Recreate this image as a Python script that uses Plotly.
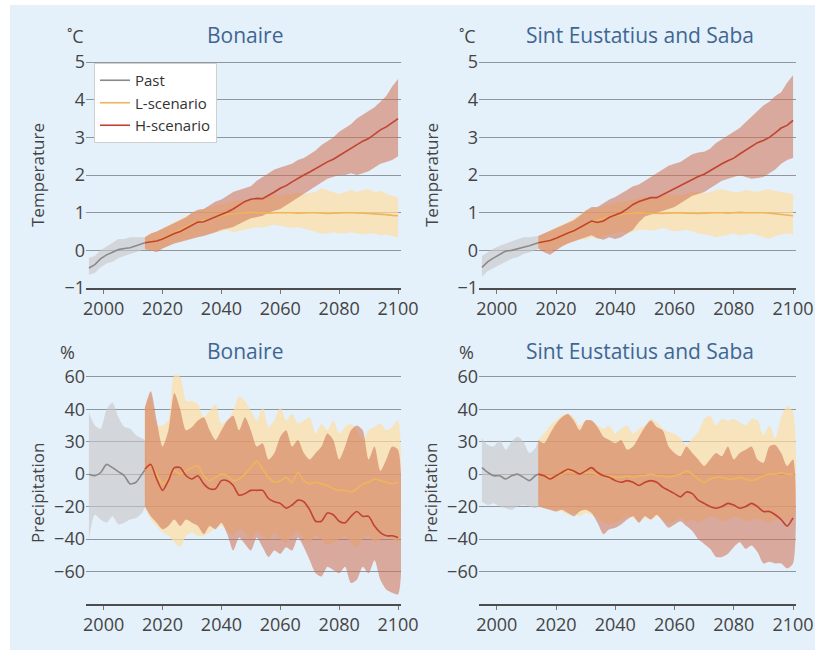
import plotly.graph_objects as go

# ---------------- data ----------------
PAST_YEARS = [1995, 1997, 1999, 2001, 2003, 2005, 2007, 2009, 2011, 2013, 2014]
SCEN_YEARS = list(range(2014, 2101, 2))
X_TICKS = [2000, 2020, 2040, 2060, 2080, 2100]
T_TICKS = [5, 4, 3, 2, 1, 0, -1]
T_TICKTEXT = ["5", "4", "3", "2", "1", "0", "\u22121"]
P_TICKS = [60, 40, 20, 0, -20, -40, -60]
P_TICKTEXT = ["60", "40", "30", "0", "\u221220", "\u221240", "\u221260"]
SERIES_NAMES = ["Past", "L-scenario", "H-scenario"]
PANEL_TITLES = ["Bonaire", "Sint Eustatius and Saba"]

# Temperature, Bonaire
BON_T_P_MEAN = [-0.47, -0.38, -0.22, -0.12, -0.05, 0.02, 0.05, 0.07, 0.12, 0.18, 0.20]
BON_T_P_LO = [-0.65, -0.60, -0.45, -0.35, -0.30, -0.20, -0.15, -0.10, -0.05, 0.00, 0.03]
BON_T_P_HI = [-0.20, -0.15, 0.00, 0.10, 0.20, 0.30, 0.30, 0.35, 0.35, 0.35, 0.35]
BON_T_H_MEAN = [0.20, 0.22, 0.25, 0.30, 0.38, 0.45, 0.50, 0.58, 0.67, 0.75, 0.76, 0.82, 0.90, 0.95, 1.02,
                1.10, 1.20, 1.30, 1.36, 1.38, 1.37, 1.45, 1.55, 1.65, 1.72, 1.82, 1.92, 2.00, 2.08, 2.17,
                2.28, 2.35, 2.42, 2.52, 2.62, 2.72, 2.82, 2.90, 2.97, 3.08, 3.20, 3.28, 3.38, 3.50]
BON_T_H_LO = [0.02, 0.00, -0.05, 0.05, 0.12, 0.18, 0.22, 0.25, 0.30, 0.35, 0.38, 0.42, 0.48, 0.55, 0.58,
              0.62, 0.70, 0.78, 0.85, 0.88, 0.92, 1.00, 1.05, 1.10, 1.20, 1.30, 1.40, 1.50, 1.62, 1.70,
              1.80, 1.90, 1.95, 2.00, 2.00, 2.05, 2.00, 2.05, 2.10, 2.20, 2.30, 2.35, 2.40, 2.50]
BON_T_H_HI = [0.35, 0.45, 0.50, 0.58, 0.65, 0.72, 0.80, 0.88, 1.00, 1.08, 1.10, 1.20, 1.30, 1.35, 1.45,
              1.55, 1.60, 1.65, 1.70, 1.85, 1.95, 2.05, 2.15, 2.20, 2.25, 2.30, 2.40, 2.45, 2.55, 2.65,
              2.80, 2.90, 3.00, 3.15, 3.25, 3.35, 3.50, 3.60, 3.70, 3.80, 3.95, 4.10, 4.35, 4.55]
BON_T_L_MEAN = [0.20, 0.22, 0.25, 0.32, 0.40, 0.48, 0.55, 0.62, 0.70, 0.76, 0.80, 0.85, 0.90, 0.93, 0.96,
                0.98, 1.00, 1.00, 1.01, 1.00, 0.98, 0.99, 1.00, 1.00, 1.01, 1.00, 0.99, 1.00, 1.00, 1.00,
                0.99, 0.98, 0.99, 1.00, 1.00, 1.00, 1.00, 0.99, 0.98, 0.97, 0.97, 0.95, 0.93, 0.92]
BON_T_L_LO = [0.02, 0.00, -0.02, 0.05, 0.12, 0.20, 0.25, 0.28, 0.32, 0.38, 0.42, 0.45, 0.48, 0.50, 0.55,
              0.48, 0.50, 0.55, 0.58, 0.62, 0.60, 0.65, 0.68, 0.65, 0.62, 0.60, 0.62, 0.58, 0.55, 0.50,
              0.45, 0.45, 0.48, 0.45, 0.45, 0.48, 0.45, 0.42, 0.45, 0.45, 0.40, 0.42, 0.38, 0.35]
BON_T_L_HI = [0.35, 0.45, 0.50, 0.58, 0.66, 0.75, 0.82, 0.90, 1.00, 1.05, 1.10, 1.15, 1.20, 1.22, 1.25,
              1.30, 1.35, 1.30, 1.35, 1.40, 1.42, 1.45, 1.50, 1.45, 1.50, 1.48, 1.55, 1.50, 1.52, 1.55,
              1.65, 1.60, 1.55, 1.50, 1.55, 1.60, 1.55, 1.60, 1.62, 1.55, 1.58, 1.50, 1.45, 1.40]

# Temperature, Sint Eustatius and Saba
SE_T_P_MEAN = [-0.45, -0.30, -0.20, -0.12, -0.02, 0.00, 0.05, 0.08, 0.12, 0.18, 0.20]
SE_T_P_LO = [-0.70, -0.55, -0.45, -0.38, -0.30, -0.22, -0.18, -0.10, -0.05, 0.00, 0.05]
SE_T_P_HI = [-0.15, -0.05, 0.05, 0.12, 0.18, 0.25, 0.30, 0.35, 0.35, 0.38, 0.38]
SE_T_H_MEAN = [0.20, 0.22, 0.26, 0.32, 0.40, 0.46, 0.52, 0.60, 0.70, 0.78, 0.74, 0.78, 0.88, 0.93, 1.00,
               1.10, 1.22, 1.30, 1.36, 1.40, 1.40, 1.48, 1.58, 1.65, 1.72, 1.80, 1.90, 1.96, 2.02, 2.12,
               2.22, 2.30, 2.38, 2.45, 2.56, 2.66, 2.76, 2.86, 2.92, 3.00, 3.12, 3.25, 3.32, 3.45]
SE_T_H_LO = [0.05, -0.05, -0.12, -0.02, 0.10, 0.18, 0.25, 0.30, 0.35, 0.40, 0.32, 0.28, 0.35, 0.30, 0.35,
             0.45, 0.55, 0.75, 0.90, 0.95, 1.00, 1.05, 1.10, 1.15, 1.25, 1.35, 1.45, 1.50, 1.55, 1.65,
             1.75, 1.85, 1.90, 1.95, 2.00, 1.95, 1.90, 1.92, 1.95, 2.05, 2.15, 2.30, 2.40, 2.45]
SE_T_H_HI = [0.38, 0.45, 0.52, 0.58, 0.65, 0.72, 0.80, 0.92, 1.05, 1.15, 1.15, 1.25, 1.35, 1.42, 1.50,
             1.60, 1.70, 1.75, 1.85, 1.95, 2.05, 2.15, 2.25, 2.30, 2.35, 2.45, 2.55, 2.60, 2.62, 2.70,
             2.85, 2.95, 3.05, 3.15, 3.25, 3.40, 3.55, 3.70, 3.85, 3.95, 4.10, 4.20, 4.45, 4.65]
SE_T_L_MEAN = [0.20, 0.22, 0.26, 0.33, 0.41, 0.48, 0.55, 0.62, 0.70, 0.76, 0.80, 0.86, 0.90, 0.93, 0.96,
               0.98, 0.99, 1.00, 0.99, 0.98, 0.97, 0.98, 0.99, 1.00, 1.00, 0.99, 0.98, 0.98, 0.99, 1.00,
               1.00, 1.00, 0.99, 1.00, 1.01, 1.00, 1.00, 1.01, 1.00, 0.99, 0.97, 0.96, 0.94, 0.92]
SE_T_L_LO = [0.05, 0.00, -0.05, 0.05, 0.12, 0.18, 0.25, 0.30, 0.28, 0.35, 0.30, 0.38, 0.42, 0.45, 0.50,
             0.45, 0.50, 0.55, 0.55, 0.52, 0.55, 0.60, 0.55, 0.50, 0.52, 0.55, 0.50, 0.45, 0.42, 0.40,
             0.35, 0.38, 0.42, 0.45, 0.40, 0.42, 0.45, 0.40, 0.35, 0.30, 0.38, 0.42, 0.45, 0.42]
SE_T_L_HI = [0.38, 0.45, 0.52, 0.60, 0.68, 0.75, 0.85, 0.95, 1.05, 1.10, 1.12, 1.18, 1.22, 1.25, 1.30,
             1.30, 1.35, 1.40, 1.42, 1.40, 1.45, 1.45, 1.50, 1.48, 1.45, 1.50, 1.55, 1.55, 1.52, 1.55,
             1.60, 1.62, 1.58, 1.55, 1.55, 1.60, 1.58, 1.55, 1.60, 1.62, 1.58, 1.55, 1.52, 1.50]

# Precipitation, Bonaire
BON_P_P_MEAN = [0, -1, 1, 6, 4, 1.5, -1, -6, -5, 0, 2.5]
BON_P_P_LO = [-40, -25, -28, -30, -26, -31, -30, -28, -27, -24, -20]
BON_P_P_HI = [38, 30, 28, 40, 44, 35, 29, 28, 24, 22, 21]
BON_P_H_MEAN = [3, 6, -3, -10, -4, 4, 4, -1, -3, -1, -6, -9, -9, -4, -4, -7, -13, -12, -10, -10, -10, -15,
                -17, -18, -21, -19, -16, -17, -22, -29, -29, -24, -25, -29, -30, -26, -23, -26, -26, -32,
                -36, -38, -38, -39]
BON_P_H_LO = [-20, -26, -30, -34, -32, -28, -32, -28, -30, -32, -37, -32, -34, -30, -37, -47, -39, -43,
              -47, -39, -45, -51, -47, -49, -45, -47, -39, -45, -53, -61, -63, -57, -59, -61, -57, -67,
              -65, -57, -61, -53, -65, -71, -73, -74]
BON_P_H_HI = [41, 51, 33, 17, 27, 50, 40, 27, 29, 33, 35, 27, 21, 27, 33, 36, 27, 35, 27, 17, 19, 9, 13,
              23, 27, 17, 21, 13, 9, 13, 17, 25, 21, 9, 17, 27, 30, 27, 9, 17, 2, 9, 17, 15]
BON_P_L_MEAN = [3, 5, 0, -6, -3, 2, 0, 2, 4, 5, -1, -4, -2, 0, -1, -4, -3, 0, 4, 8, 3, -2, -5, -4, -2, -5,
                1, -4, -6, -5, -6, -7, -9, -10, -10, -11, -9, -6, -5, -3, -4, -5, -6, -5]
BON_P_L_LO = [-20, -28, -32, -36, -38, -42, -45, -38, -36, -38, -38, -36, -33, -32, -35, -38, -34, -36,
              -40, -35, -38, -40, -36, -40, -42, -38, -35, -40, -42, -38, -40, -44, -42, -40, -38, -42,
              -45, -40, -38, -42, -40, -38, -40, -42]
BON_P_L_HI = [41, 48, 30, 30, 33, 61, 60, 45, 45, 43, 35, 39, 43, 31, 33, 39, 48, 45, 39, 33, 41, 29, 33,
              41, 33, 37, 31, 33, 35, 25, 31, 27, 33, 25, 29, 31, 27, 21, 27, 29, 31, 27, 29, 33]

# Precipitation, Sint Eustatius and Saba
SE_P_P_MEAN = [4, 1, -1, -1, -3, -1, 0, -2, -4, -1, 0]
SE_P_P_LO = [-17, -19, -18, -20, -21, -22, -20, -19, -20, -21, -20]
SE_P_P_HI = [22, 18, 17, 21, 15, 20, 23, 20, 13, 16, 20]
SE_P_H_MEAN = [0, -1, -3, -1, 1, 3, 2, 0, 2, 4, 1, -1, -2, -4, -5, -4, -5, -7, -5, -4, -5, -8, -10, -12,
               -14, -11, -12, -16, -18, -20, -21, -20, -18, -19, -21, -20, -18, -20, -23, -23, -25, -28,
               -32, -27]
SE_P_H_LO = [-20, -21, -22, -23, -22, -24, -26, -23, -22, -24, -30, -37, -34, -33, -31, -28, -26, -30, -26,
             -28, -25, -29, -33, -31, -29, -32, -35, -40, -43, -46, -51, -51, -49, -45, -42, -46, -44, -48,
             -55, -54, -55, -55, -58, -55]
SE_P_H_HI = [21, 19, 25, 31, 35, 37, 33, 27, 33, 33, 29, 23, 21, 19, 21, 15, 17, 23, 29, 33, 29, 27, 17,
             13, 11, 17, 13, 9, 5, 9, 13, 11, 17, 9, 13, 15, 17, 9, 7, 17, 18, 13, 5, 9]
SE_P_L_MEAN = [0, -1, -2, -1, 0, 2, 1, 0, 1, 1, 0, -1, -1, -2, -2, -1, -2, -1, -1, 0, -1, -1, -2, -1, 0,
               2, 0, -3, -5, -3, -2, -2, -3, -3, -2, -3, -4, -3, -1, 0, 0, 1, 0, 0]
SE_P_L_LO = [-20, -21, -22, -23, -23, -25, -24, -26, -24, -25, -27, -30, -31, -30, -28, -26, -27, -29,
             -27, -28, -26, -28, -30, -29, -27, -29, -28, -30, -28, -26, -27, -29, -28, -26, -27, -29,
             -28, -27, -29, -30, -28, -27, -29, -28]
SE_P_L_HI = [21, 25, 30, 33, 36, 37, 35, 30, 33, 33, 30, 28, 30, 25, 28, 30, 25, 28, 30, 34, 32, 28, 26,
             25, 22, 18, 22, 26, 34, 36, 30, 34, 33, 34, 32, 30, 34, 33, 24, 30, 22, 35, 42, 38]

# ---------------- styling ----------------
W, H = 817, 652
FONT = "Open Sans"
BG = "#e4f0fa"
TITLE_COL = "#3f6692"
TEXT_COL = "#444444"
GRID_COL = "#8e979e"
LINE_COL = {"Past": "#8a8a8a", "L-scenario": "#f0b45c", "H-scenario": "#c2432f"}
BAND_COL = {"Past": "rgba(200,199,198,0.62)",
            "L-scenario": "rgba(255,222,162,0.70)",
            "H-scenario": "rgba(206,112,78,0.55)"}

panels = [
    ("x", "y", (86, 401), (61, 288), [-1, 5.03], "T",
     (BON_T_P_MEAN, BON_T_P_LO, BON_T_P_HI), (BON_T_L_MEAN, BON_T_L_LO, BON_T_L_HI),
     (BON_T_H_MEAN, BON_T_H_LO, BON_T_H_HI)),
    ("x2", "y2", (479, 796), (61, 288), [-1, 5.03], "T",
     (SE_T_P_MEAN, SE_T_P_LO, SE_T_P_HI), (SE_T_L_MEAN, SE_T_L_LO, SE_T_L_HI),
     (SE_T_H_MEAN, SE_T_H_LO, SE_T_H_HI)),
    ("x3", "y3", (86, 401), (367, 604), [-80, 66], "P",
     (BON_P_P_MEAN, BON_P_P_LO, BON_P_P_HI), (BON_P_L_MEAN, BON_P_L_LO, BON_P_L_HI),
     (BON_P_H_MEAN, BON_P_H_LO, BON_P_H_HI)),
    ("x4", "y4", (479, 796), (367, 604), [-80, 66], "P",
     (SE_P_P_MEAN, SE_P_P_LO, SE_P_P_HI), (SE_P_L_MEAN, SE_P_L_LO, SE_P_L_HI),
     (SE_P_H_MEAN, SE_P_H_LO, SE_P_H_HI)),
]

fig = go.Figure()


def band(xs, lo, hi, color, xa, ya, shape):
    return go.Scatter(x=list(xs) + list(xs)[::-1], y=list(hi) + list(lo)[::-1],
                      fill="toself", fillcolor=color,
                      line=dict(width=0, shape=shape, smoothing=0.7),
                      mode="lines", showlegend=False, hoverinfo="skip",
                      xaxis=xa, yaxis=ya)


layout_axes = {}
for idx, (xa, ya, xd, yd, yr, kind, past, low, high) in enumerate(panels):
    shape = "spline" if kind == "P" else "linear"
    series = [("Past", PAST_YEARS, past), ("L-scenario", SCEN_YEARS, low), ("H-scenario", SCEN_YEARS, high)]
    for name, yrs, (m, lo, hi) in series:
        assert len(m) == len(lo) == len(hi) == len(yrs)
        fig.add_trace(band(yrs, lo, hi, BAND_COL[name], xa, ya, shape))
    for name, yrs, (m, lo, hi) in series:
        fig.add_trace(go.Scatter(x=yrs, y=m, mode="lines", name=name,
                                 line=dict(color=LINE_COL[name], width=1.6, shape=shape, smoothing=0.7),
                                 showlegend=(idx == 0), xaxis=xa, yaxis=ya))
    xkey = "xaxis" + xa[1:]
    ykey = "yaxis" + ya[1:]
    layout_axes[xkey] = dict(
        domain=[xd[0] / W, xd[1] / W], anchor=ya, range=[1994, 2101],
        tickvals=X_TICKS, showgrid=False, zeroline=False, automargin=False,
        showline=True, linecolor="#4d4d4d", linewidth=1.5,
        ticks="outside", ticklen=4, tickcolor="#777777", tickwidth=1,
        tickfont=dict(family=FONT, size=18, color=TEXT_COL))
    layout_axes[ykey] = dict(
        domain=[1 - yd[1] / H, 1 - yd[0] / H], anchor=xa, range=yr,
        tickvals=T_TICKS if kind == "T" else P_TICKS,
        ticktext=T_TICKTEXT if kind == "T" else P_TICKTEXT,
        showgrid=True, gridcolor=GRID_COL, gridwidth=1, zeroline=False, automargin=False,
        showline=False, ticks="",
        tickfont=dict(family=FONT, size=18, color=TEXT_COL))

fig.update_layout(**layout_axes)


def ann(text, x, y, size, color, angle=0):
    return dict(text=text, x=x / W, y=1 - y / H, xref="paper", yref="paper",
                showarrow=False, font=dict(family=FONT, size=size, color=color),
                textangle=angle, xanchor="center", yanchor="middle")


annotations = [
    ann(PANEL_TITLES[0], 245, 35, 21, TITLE_COL),
    ann(PANEL_TITLES[1], 640, 35, 21, TITLE_COL),
    ann(PANEL_TITLES[0], 245, 351, 21, TITLE_COL),
    ann(PANEL_TITLES[1], 640, 351, 21, TITLE_COL),
    ann("\u02daC", 75, 36, 18, TEXT_COL),
    ann("\u02daC", 467, 36, 18, TEXT_COL),
    ann("%", 67, 352, 18, TEXT_COL),
    ann("%", 466, 352, 18, TEXT_COL),
    ann("Temperature", 37, 175, 17, TEXT_COL, -90),
    ann("Temperature", 431, 175, 17, TEXT_COL, -90),
    ann("Precipitation", 37, 493, 17, TEXT_COL, -90),
    ann("Precipitation", 430, 493, 17, TEXT_COL, -90),
]

fig.update_layout(
    width=W, height=H, autosize=False,
    margin=dict(l=0, r=0, t=0, b=0, pad=0, autoexpand=False),
    paper_bgcolor="white", plot_bgcolor="rgba(0,0,0,0)",
    font=dict(family=FONT, color=TEXT_COL),
    annotations=annotations,
    shapes=[dict(type="rect", xref="paper", yref="paper",
                 x0=10 / W, x1=815 / W, y0=1 - 650 / H, y1=1 - 5 / H,
                 fillcolor=BG, line=dict(width=0), layer="below")],
    legend=dict(x=94 / W, y=1 - 63 / H, xanchor="left", yanchor="top",
                bgcolor="white", bordercolor="#d0d0d0", borderwidth=1,
                font=dict(family=FONT, size=15, color="#333333"),
                tracegroupgap=0, itemwidth=30),
    showlegend=True,
)

fig.write_html(
    "out.html",
    config={"displayModeBar": False},
    post_script="document.body.style.margin='0';document.body.style.overflow='hidden';",
)
